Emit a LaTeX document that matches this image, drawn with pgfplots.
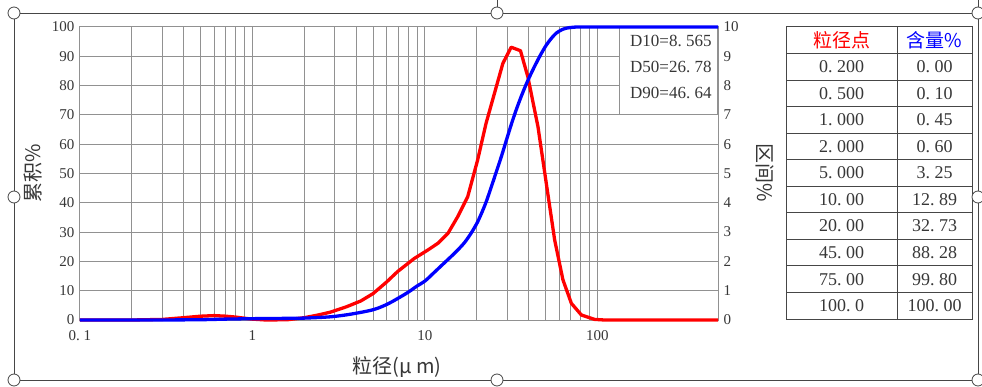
\documentclass[border=0pt]{standalone}
\usepackage{fontspec}
\setmainfont{Liberation Serif}
\newfontfamily\cjk{Noto Sans CJK SC}
\usepackage{pgfplots}
\pgfplotsset{compat=1.18}
\definecolor{gridgray}{RGB}{145,145,145}
\definecolor{framegray}{RGB}{70,70,70}
\definecolor{txt}{RGB}{55,55,55}
\definecolor{myred}{RGB}{255,0,0}
\definecolor{myblue}{RGB}{0,0,255}
\newcommand\dd{.\hspace{0.25em}}

\pgfplotstableread{
x y
0.1 0
0.2 0
0.3 0.02
0.4 0.08
0.5 0.13
0.6 0.15
0.7 0.13
0.8 0.1
0.9 0.06
1.0 0.03
1.2 0.0
1.6 0.01
2.0 0.08
2.4 0.17
2.84 0.27
3.5 0.45
4.25 0.65
5.0 0.9
6.0 1.3
6.93 1.65
8.67 2.1
10.4 2.39
11.9 2.62
13.6 2.96
15.5 3.53
17.7 4.21
20.2 5.46
22.6 6.71
25.3 7.74
28.3 8.76
31.6 9.31
35.8 9.19
39.5 8.3
45.2 6.6
50.5 4.67
56.5 2.73
63.1 1.37
70.6 0.57
80.7 0.17
96.4 0.02
110 0
500 0
}\interval

\pgfplotstableread{
x y
0.1 0
0.3 0.02
0.5 0.1
0.7 0.3
1.0 0.45
1.5 0.55
2.0 0.65
2.84 1.1
3.72 2.0
5.0 3.5
6.0 5.3
6.93 7.3
8.0 9.5
9.0 11.6
10.0 13.3
11.3 16.2
12.9 19.4
14.2 21.7
15.5 23.9
17.0 26.5
18.5 29.6
20.0 33.0
21.2 36.2
22.7 40.5
24.2 45.3
26.0 50.8
27.7 55.7
29.6 61.2
31.6 66.6
33.8 71.7
36.1 76.2
38.6 80.4
41.3 84.2
44.1 87.6
47.2 90.9
50.5 93.8
54.0 96.1
57.7 97.9
61.8 99.0
66.0 99.6
70.6 99.85
76.0 100
85 100
500 100
}\cumul

\begin{document}
\begin{tikzpicture}[x=1pt,y=1pt]
\useasboundingbox (0,0) rectangle (982,386);
\fill[white] (0,0) rectangle (982,386);
% frame
\draw[framegray, line width=0.9pt] (14,6) rectangle (978,373);
\draw[framegray, line width=0.9pt] (497,373) -- (497,386);
\draw[framegray, line width=0.9pt] (978,373) -- (978,386);

\begin{axis}[at={(80pt,66pt)}, anchor=south west, scale only axis,
  width=638pt, height=293pt,
  xmode=log, xmin=0.1, xmax=500, ymin=0, ymax=10,
  clip=false,
  axis line style={gridgray, line width=1pt},
  grid=both, xminorgrids=true,
  major grid style={gridgray, line width=1pt},
  minor grid style={gridgray, line width=1pt},
  major tick length=0pt, minor tick length=0pt,
  xtick={0.1,1,10,100}, xticklabels={0\dd1,1,10,100},
  ytick={0,1,...,10}, yticklabel pos=right,
  /pgf/number format/assume math mode=true,
  tick label style={font=\fontsize{15}{15}\selectfont, text=txt},
  xticklabel style={yshift=-7pt},
  yticklabel style={xshift=2pt},
]
\addplot[myred, line width=3.3pt, line join=round] table[x=x,y=y] {\interval};
\node[draw=gridgray, line width=1pt, fill=white, anchor=north east, minimum width=98pt, minimum height=87pt,
  inner sep=0pt] at (rel axis cs:1,1) {};
\node[anchor=north west, align=left, font=\fontsize{17}{26}\selectfont, text=txt, inner sep=0pt]
  at ([xshift=630pt-80pt-638pt, yshift=-8pt]rel axis cs:1,1)
  {D10=8\dd565\\D50=26\dd78\\D90=46\dd64};
\end{axis}

\begin{axis}[at={(80pt,66pt)}, anchor=south west, scale only axis,
  width=638pt, height=293pt,
  xmode=log, xmin=0.1, xmax=500, ymin=0, ymax=100,
  clip=false,
  hide x axis,
  axis y line*=left,
  y axis line style={draw=none},
  major tick length=0pt, minor tick length=0pt,
  ytick={0,10,...,100},
  /pgf/number format/assume math mode=true,
  tick label style={font=\fontsize{15}{15}\selectfont, text=txt},
  yticklabel style={xshift=-2pt},
]
\addplot[myblue, line width=3.3pt, smooth, tension=0.5, line join=round] table[x=x,y=y] {\cumul};
\end{axis}

% axis titles
\node[rotate=90, font=\cjk\fontsize{20}{20}\selectfont, text=txt] at (33,213) {累积\%};
\node[rotate=-90, font=\cjk\fontsize{20}{20}\selectfont, text=txt] at (765,213) {区间\%};
\node[font=\cjk\fontsize{20}{20}\selectfont, text=txt] at (397,19) {粒径(μ m)};

% table
\begin{scope}[framegray, line width=1pt]
\draw (786,67) rectangle (972,359);
\draw (897,67) -- (897,359);
\foreach \k in {1,...,10} {
  \draw (786,{359-26.545*\k}) -- (972,{359-26.545*\k});
}
\end{scope}
\node[font=\cjk\fontsize{19}{19}\selectfont, text=myred] at (841.5,{359-26.545*0.5}) {粒径点};
\node[font=\cjk\fontsize{19}{19}\selectfont, text=myblue] at (934.5,{359-26.545*0.5}) {含量\%};
\foreach \a/\b [count=\i] in {0\dd200/0\dd00, 0\dd500/0\dd10, 1\dd000/0\dd45, 2\dd000/0\dd60, 5\dd000/3\dd25,
  10\dd00/12\dd89, 20\dd00/32\dd73, 45\dd00/88\dd28, 75\dd00/99\dd80, 100\dd0/100\dd00} {
  \node[font=\fontsize{18}{18}\selectfont, text=txt] at (841.5,{359-26.545*(\i+0.5)}) {\a};
  \node[font=\fontsize{18}{18}\selectfont, text=txt] at (934.5,{359-26.545*(\i+0.5)}) {\b};
}

% handles
\foreach \p in {(14,373),(497,373),(978,373),(14,189),(978,189),(14,6),(497,6),(978,6)} {
  \draw[framegray, fill=white, line width=0.8pt] \p circle (6);
}
\end{tikzpicture}
\end{document}
